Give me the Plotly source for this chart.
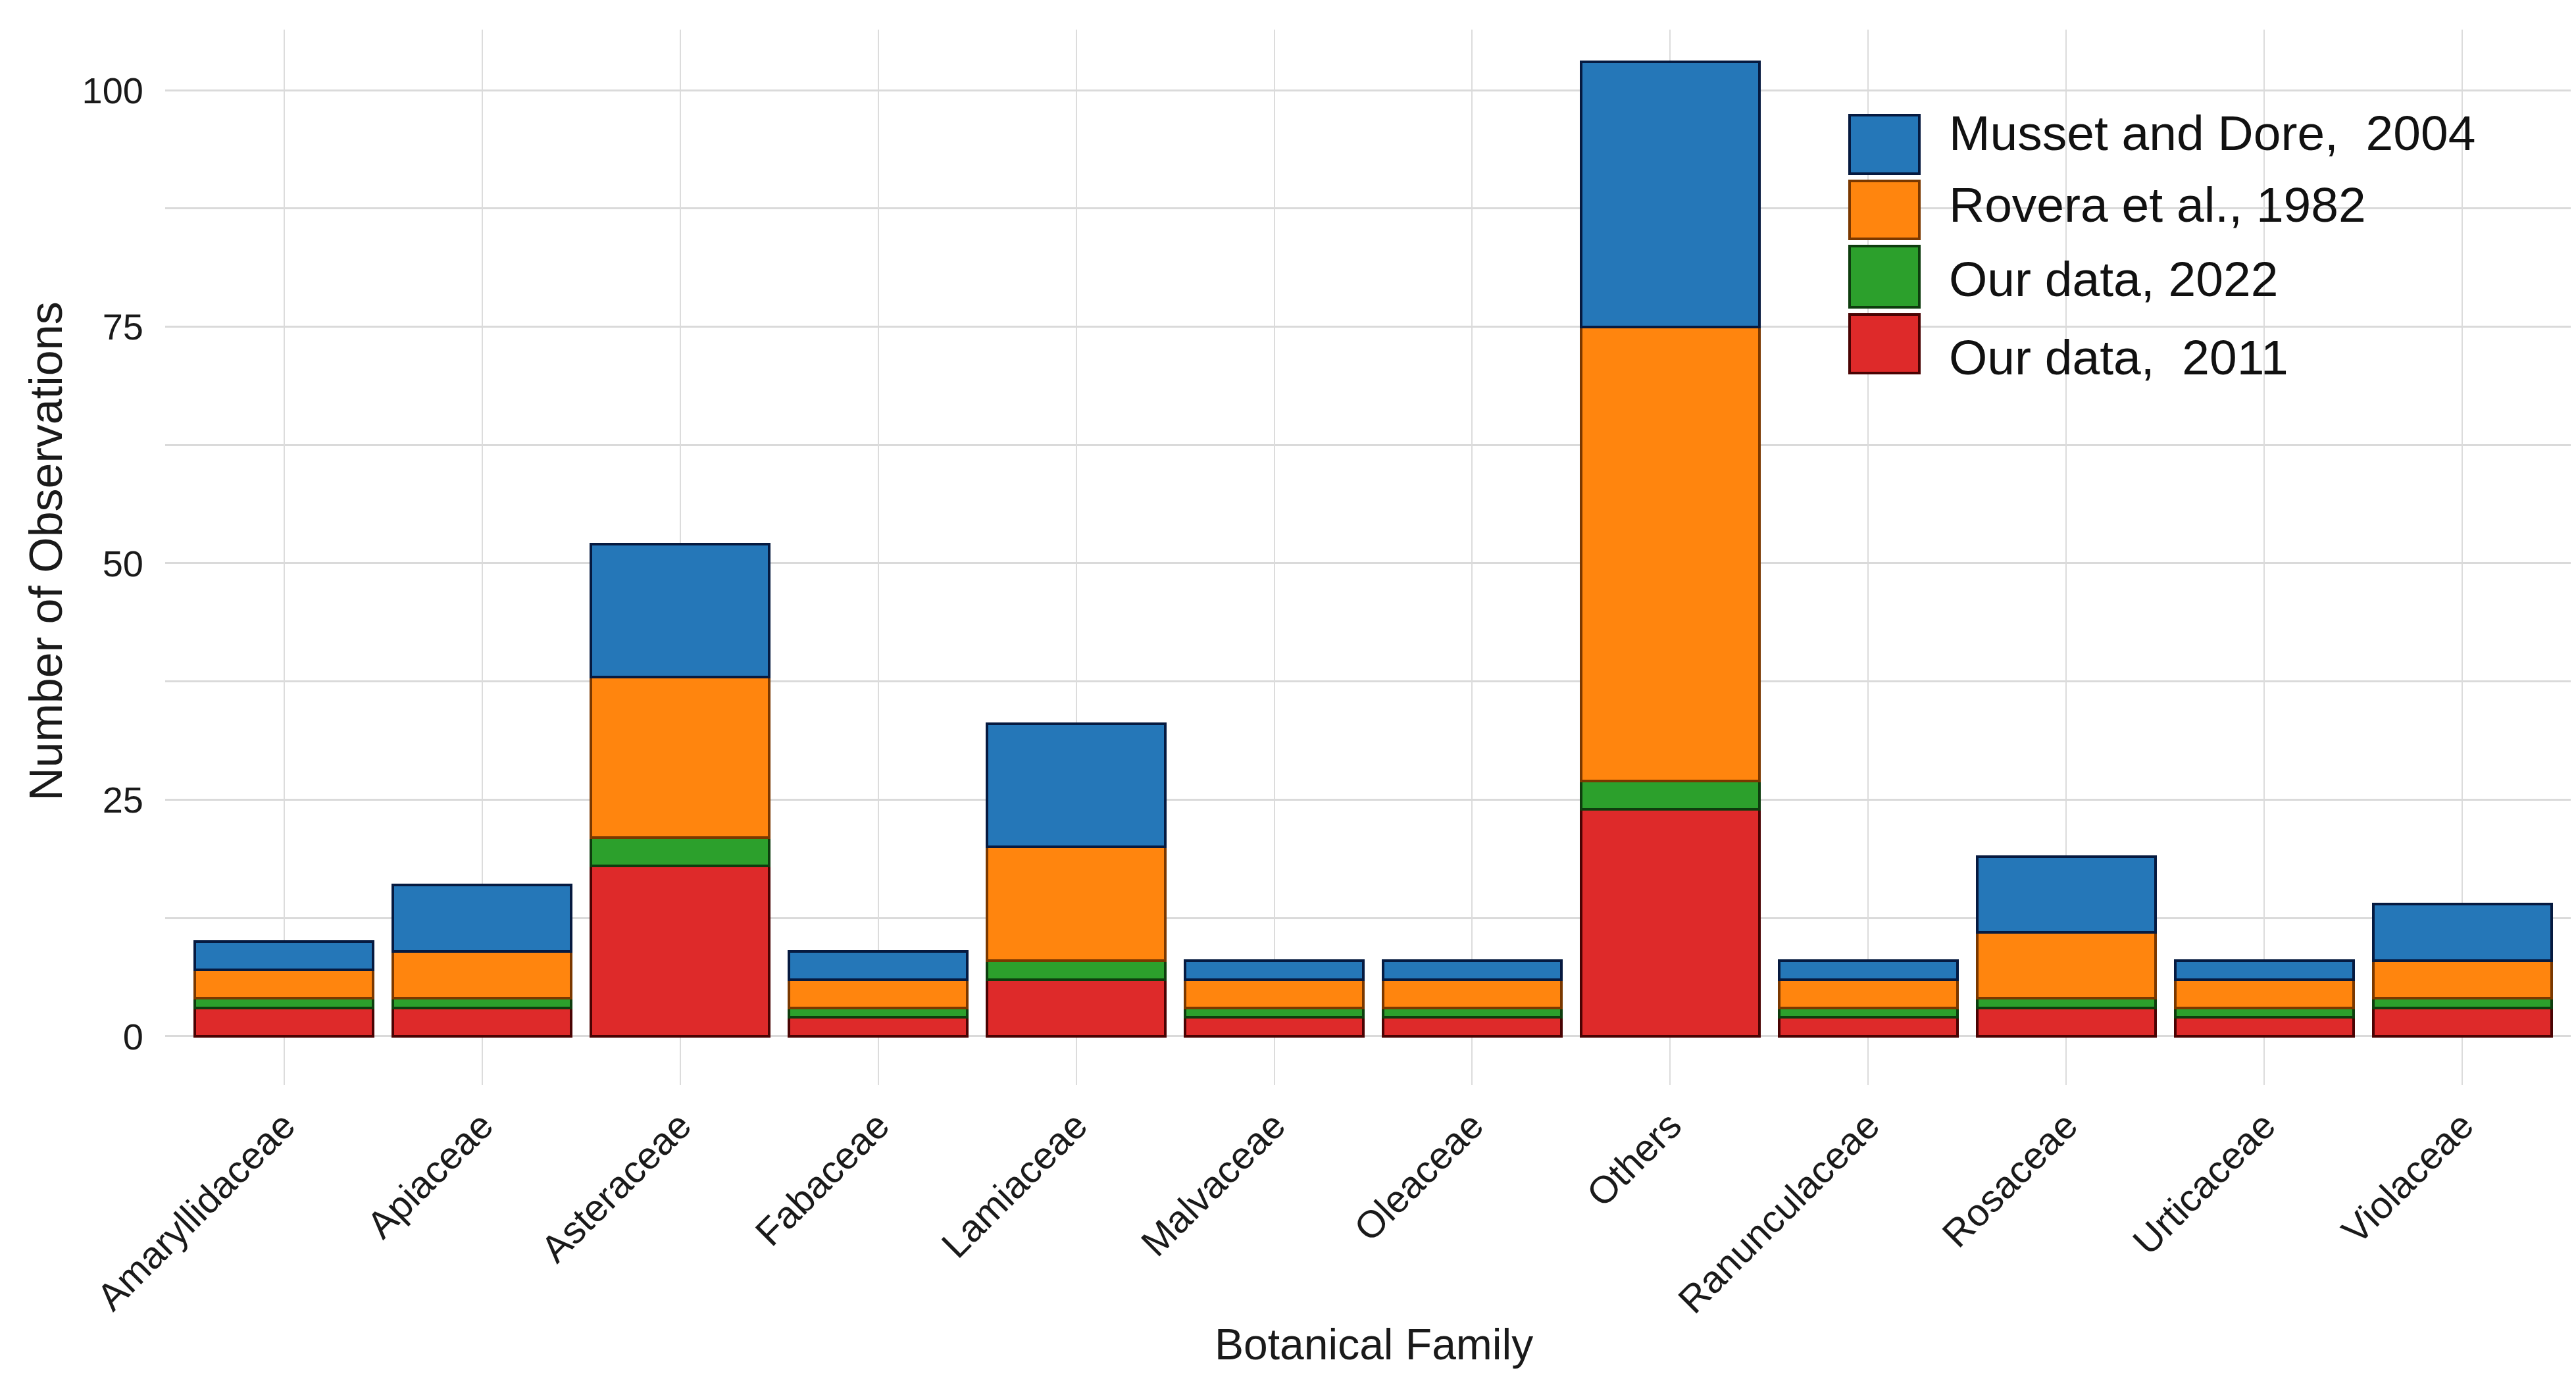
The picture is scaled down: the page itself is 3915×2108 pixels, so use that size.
import plotly.graph_objects as go

# ---------------- data ----------------
families = ["Amaryllidaceae", "Apiaceae", "Asteraceae", "Fabaceae", "Lamiaceae",
            "Malvaceae", "Oleaceae", "Others", "Ranunculaceae", "Rosaceae",
            "Urticaceae", "Violaceae"]
our_2011 = [3, 3, 18, 2, 6, 2, 2, 24, 2, 3, 2, 3]
our_2022 = [1, 1, 3, 1, 2, 1, 1, 3, 1, 1, 1, 1]
rovera_1982 = [3, 5, 17, 3, 12, 3, 3, 48, 3, 7, 3, 4]
musset_2004 = [3, 7, 14, 3, 13, 2, 2, 28, 2, 8, 2, 6]

y_ticks = [0, 25, 50, 75, 100]

series = [
    ("Our data,\u00a0 2011", our_2011, "#de2a2a", "#4a0303"),
    ("Our data, 2022", our_2022, "#2ca02c", "#0e3d0e"),
    ("Rovera et al., 1982", rovera_1982, "#ff850e", "#7a3800"),
    ("Musset and Dore,\u00a0 2004", musset_2004, "#2577b8", "#061a40"),
]
legend_order = [3, 2, 1, 0]

# ---------------- layout geometry (pixels) ----------------
W, H = 3915, 2108
L, R, T, B = 243, 0, 37, 467
PW, PH = W - L - R, H - T - B

def px_x(px):
    return (px - L) / PW

def px_y(py):
    return (H - B - py) / PH

FONT = "Liberation Sans, Arial, sans-serif"
TXT = "#1a1a1a"

fig = go.Figure()
for name, vals, col, edge in series:
    fig.add_trace(go.Bar(
        x=families, y=vals, name=name,
        marker=dict(color=col, line=dict(color=edge, width=4)),
        showlegend=False,
    ))

fig.update_layout(
    barmode="stack",
    bargap=0.1,
    width=W, height=H,
    margin=dict(l=L, r=R, t=T, b=B, pad=0),
    paper_bgcolor="white",
    plot_bgcolor="white",
    font=dict(family=FONT, color=TXT, size=56),
    xaxis=dict(
        type="category",
        range=[-0.6, 11.6],
        showgrid=True, gridcolor="#dcdcdc", gridwidth=2,
        showline=False, zeroline=False, ticks="",
        tickangle=-45,
        tickfont=dict(size=58, color=TXT, family=FONT),
        ticklabelstandoff=15,
    ),
    yaxis=dict(
        range=[-5.15, 106.4],
        tickvals=y_ticks,
        showgrid=True, gridcolor="#dadada", gridwidth=3,
        minor=dict(dtick=12.5, tick0=0, showgrid=True, gridcolor="#dadada", gridwidth=3),
        showline=False, zeroline=False, ticks="",
        tickfont=dict(size=56, color=TXT, family=FONT),
        ticklabelstandoff=32,
    ),
)

# axis titles
fig.add_annotation(text="Botanical Family", xref="paper", yref="paper",
                   x=px_x(2080), y=px_y(2035), xanchor="center", yanchor="middle",
                   showarrow=False, font=dict(size=66, color=TXT, family=FONT))
fig.add_annotation(text="Number of Observations", xref="paper", yref="paper",
                   x=px_x(62), y=px_y(830), xanchor="center", yanchor="middle",
                   textangle=-90, showarrow=False,
                   font=dict(size=70, color=TXT, family=FONT))

# legend background (masks gridlines)
fig.add_shape(type="rect", xref="paper", yref="paper", layer="below",
              x0=px_x(2780), x1=px_x(3800), y0=px_y(262), y1=px_y(107),
              fillcolor="white", line=dict(width=0))
fig.add_shape(type="rect", xref="paper", yref="paper", layer="below",
              x0=px_x(2780), x1=px_x(3690), y0=px_y(602), y1=px_y(262),
              fillcolor="white", line=dict(width=0))

# manual legend
sw_top = [167, 267, 366, 470]
sw_bot = [256, 355, 459, 559]
txt_y = [194, 303, 416, 535]
for k, idx in enumerate(legend_order):
    name, vals, col, edge = series[idx]
    fig.add_shape(type="rect", xref="paper", yref="paper",
                  x0=px_x(2803), x1=px_x(2909), y0=px_y(sw_bot[k]), y1=px_y(sw_top[k]),
                  fillcolor=col, line=dict(color=edge, width=4))
    fig.add_annotation(text=name, xref="paper", yref="paper",
                       x=px_x(2952), y=px_y(txt_y[k]), xanchor="left", yanchor="middle",
                       showarrow=False, font=dict(size=75, color="#111111", family=FONT))

fig.write_html("out.html")
